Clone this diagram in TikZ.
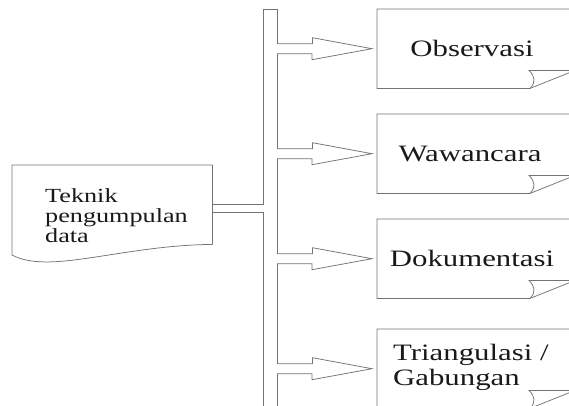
\documentclass[tikz,border=0pt]{standalone}
\usepackage{fontspec}
\setmainfont{Liberation Serif}[FakeStretch=1.31]

\begin{document}
\begin{tikzpicture}[x=1pt, y=-1pt,
	garis/.style={draw=black!55, line width=0.75pt},
	holder/.style={draw=none, inner sep=0pt, anchor=north west},
	teks/.style={text=black!90, inner sep=0pt},
	besar/.style={teks, font=\fontsize{23.5}{25}\selectfont}]
	
	\useasboundingbox (0, 0) rectangle (569, 405);
	\clip (0, 0) rectangle (569, 405);
	
	% Teknik pengumpulan data (document shape)
	\node[holder, minimum width=200pt, minimum height=79pt] (doc) at (12, 165) {};
	\draw[garis] (doc.south east) -- (doc.north east) -- (doc.north west) -- ++(0, 90) .. controls +(38, 20) and +(-92, 1) .. (doc.south east);
	\node[teks, anchor=north west, align=left, font=\fontsize{20}{20}\selectfont] (teknik) at (45, 188) {Teknik\\pengumpulan\\data};
	
	% bus with pipe from the document
	\node[holder, minimum width=14pt, minimum height=420pt] (bus) at (263, 9) {};
	\draw[garis] (bus.south west) -- (bus.west |- 0, 212) -- (doc.east |- 0, 212) -- (doc.east |- 0, 204) -- (bus.west |- 0, 204) -- (bus.north west) -- (bus.north east) -- ++(0, 34.5);
	
	% boxes and arrows
	\foreach \name/\top in {obs/9, waw/114, dok/219, tri/329} {
		\node[holder, minimum width=250pt, minimum height=79pt] (\name) at (377, \top) {};
		\draw[garis] (\name.north east) -- (\name.north west) -- (\name.south west) -- ++(153, 0) coordinate (fold) .. controls +(6, -6) and +(6, 6) .. ++(-1, -18) -- ++(41, 0);
		\draw[garis] (fold) -- ++(40, -16);
		\draw[garis] (bus.east |- \name.west) ++(0, -5) -- ++(35, 0) -- ++(0, -6) -- ([xshift=-5pt]\name.west) -- ++(-60, 11) -- ++(0, -6) -- ++(-35, 0);
	}
	
	% right side of the bus between the arrows
	\foreach \name/\len in {obs/95, waw/95, dok/100}
	\draw[garis] (bus.east |- \name.west) ++(0, 5) -- ++(0, \len);
	\draw[garis] (bus.east |- tri.west) ++(0, 5) -- (bus.south east);
	
	% labels
	\node[besar, anchor=base] (observasi) at (472, 56.5) {Observasi};
	\node[besar, anchor=base] (wawancara) at (470, 161.5) {Wawancara};
	\node[besar, anchor=base] (dokumentasi) at (472, 266.5) {Dokumentasi};
	\node[besar, anchor=north west, align=left] (triangulasi) at (393, 344) {Triangulasi /\\Gabungan};
	
\end{tikzpicture}
\end{document}
